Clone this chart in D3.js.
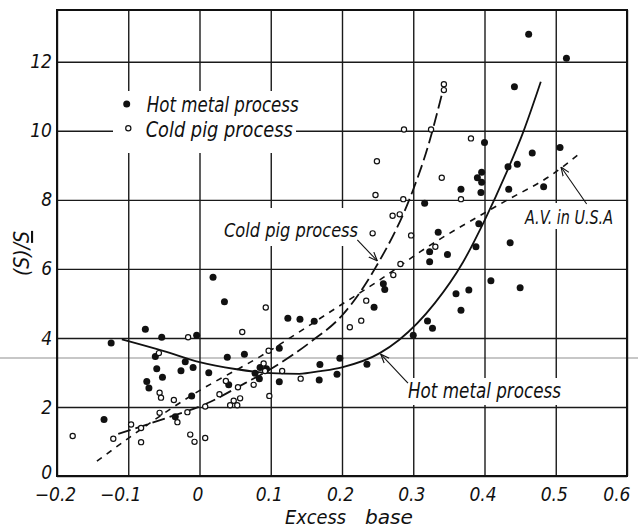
<!doctype html>
<html>
<head>
<meta charset="utf-8" />
<title>Excess base</title>
<script src="https://cdnjs.cloudflare.com/ajax/libs/d3/7.8.5/d3.min.js"></script>
<style>
  body { margin: 0; background: #fff; }
  svg { display: block; background: #fff; }
  .hand { font-family: "Liberation Sans Narrow", "DejaVu Sans Condensed", "Liberation Sans", sans-serif; font-style: italic; fill: #111; }
</style>
</head>
<body>
<div id="chart"></div>
<script>
// ticks
var xTicks = [-0.2, -0.1, 0, 0.1, 0.2, 0.3, 0.4, 0.5, 0.6];
var xTickLabels = ["\u22120.2", "\u22120.1", "0", "0.1", "0.2", "0.3", "0.4", "0.5", "0.6"];
var yTicks = [0, 2, 4, 6, 8, 10, 12];
var yTickLabels = ["0", "2", "4", "6", "8", "10", "12"];

// hot metal process (filled dots): [excess base, (S)/S]
var hotMetal = [
  [-0.076, 4.25], [-0.053, 4.02], [-0.004, 4.08], [-0.124, 3.85], [-0.062, 3.46],
  [-0.020, 3.31], [-0.060, 3.11], [-0.026, 3.05], [-0.009, 3.14], [-0.052, 2.86],
  [-0.074, 2.74], [-0.071, 2.55], [-0.011, 2.32], [-0.134, 1.64], [-0.034, 1.72],
  [0.019, 5.76], [0.035, 5.05], [0.124, 4.57], [0.141, 4.54], [0.161, 4.48],
  [0.112, 3.70], [0.039, 3.44], [0.063, 3.53], [0.197, 3.41], [0.169, 3.23],
  [0.013, 2.99], [0.085, 3.14], [0.094, 3.11], [0.078, 2.98], [0.084, 2.82],
  [0.041, 2.64], [0.112, 2.73], [0.168, 2.78], [0.193, 2.95], [0.235, 3.24],
  [0.323, 6.50], [0.348, 6.42], [0.323, 6.21], [0.258, 5.57], [0.260, 5.40],
  [0.245, 4.89], [0.360, 5.28], [0.378, 5.39], [0.367, 4.80], [0.320, 4.49],
  [0.327, 4.28], [0.300, 4.08], [0.462, 12.80], [0.515, 12.10], [0.442, 11.28],
  [0.400, 9.66], [0.467, 9.36], [0.506, 9.52], [0.433, 8.96], [0.446, 9.03],
  [0.396, 8.80], [0.390, 8.64], [0.396, 8.51], [0.367, 8.31], [0.395, 8.21],
  [0.434, 8.31], [0.483, 8.38], [0.316, 7.90], [0.392, 7.31], [0.335, 7.06],
  [0.436, 6.76], [0.388, 6.64], [0.409, 5.66], [0.450, 5.45]
];

// cold pig process (open circles)
var coldPig = [
  [-0.016, 4.02], [-0.057, 3.56], [-0.056, 2.41], [-0.054, 2.27], [-0.036, 2.20],
  [-0.056, 1.83], [-0.017, 1.85], [-0.031, 1.56], [-0.096, 1.49], [-0.082, 1.39],
  [-0.121, 1.08], [-0.082, 0.98], [-0.178, 1.16], [-0.013, 1.20], [-0.007, 0.99],
  [0.008, 1.10], [0.093, 4.88], [0.060, 4.17], [0.037, 2.75], [0.054, 2.57],
  [0.076, 2.64], [0.028, 2.37], [0.048, 2.18], [0.057, 2.25], [0.043, 2.05],
  [0.053, 2.05], [0.008, 2.01], [0.098, 2.32], [0.116, 3.04], [0.142, 2.82],
  [0.090, 3.26], [0.092, 3.04], [0.097, 3.63], [0.282, 6.14], [0.272, 5.82],
  [0.234, 5.08], [0.227, 4.50], [0.211, 4.31], [0.287, 10.04], [0.249, 9.12],
  [0.247, 8.14], [0.286, 8.02], [0.271, 7.54], [0.281, 7.58], [0.243, 7.03],
  [0.297, 6.97], [0.343, 11.35], [0.343, 11.18], [0.325, 10.04], [0.381, 9.78],
  [0.340, 8.64], [0.367, 8.02], [0.331, 6.64]
];

// fitted curves drawn on the chart
var hotMetalCurve = [
  [-0.109, 3.96], [-0.05, 3.62], [0, 3.30], [0.05, 3.10], [0.1, 2.98], [0.14, 2.96],
  [0.17, 3.04], [0.2, 3.15], [0.253, 3.56], [0.28, 3.94], [0.33, 5.0], [0.37, 6.2],
  [0.40, 7.4], [0.43, 8.75], [0.455, 10.0], [0.479, 11.42]
];
var coldPigCurve = [
  [-0.114, 1.22], [-0.048, 1.67], [0.01, 2.10], [0.064, 2.69], [0.1, 3.1],
  [0.157, 3.9], [0.2, 4.65], [0.246, 6.0], [0.30, 8.3], [0.32, 9.5], [0.34, 11.04]
];
var avUSACurve = [
  [-0.144, 0.43], [-0.006, 2.40], [0.085, 3.46], [0.195, 4.91], [0.253, 5.68],
  [0.31, 6.5], [0.428, 7.95], [0.494, 8.72], [0.531, 9.30]
];

// arrows [from, to] in data units
var arrows = [
  [[0.2215, 6.84], [0.2496, 6.23]],
  [[0.2926, 2.69], [0.2543, 3.53]],
  [[0.5434, 7.88], [0.5074, 8.95]]
];

var W = 638, H = 532;
var mLeft = 57, mRight = 627, mTop = 10, mBottom = 476;
var fontStack = '"Liberation Sans Narrow", "DejaVu Sans Condensed", "Liberation Sans", sans-serif';

var svg = d3.select('#chart').append('svg')
    .attr('width', W)
    .attr('height', H);

var x = d3.scaleLinear().domain([-0.2, 0.6]).range([mLeft, mRight]);
var y = d3.scaleLinear().domain([0, 13.5]).range([mBottom, mTop]);

// faint scan line across the page
svg.append('line')
    .attr('x1', 0).attr('x2', W)
    .attr('y1', 358).attr('y2', 358)
    .style('stroke', '#b4b4b4').style('stroke-width', 1.5);

// grid via axes
var xAxis = d3.axisBottom(x)
    .tickValues(xTicks)
    .tickSize(-(mBottom - mTop))
    .tickPadding(12)
    .tickFormat(function (d, i) { return xTickLabels[i]; });
var yAxis = d3.axisLeft(y)
    .tickValues(yTicks)
    .tickSize(-(mRight - mLeft))
    .tickPadding(5)
    .tickFormat(function (d, i) { return yTickLabels[i]; });

var gx = svg.append('g').attr('transform', 'translate(0,' + mBottom + ')').call(xAxis);
var gy = svg.append('g').attr('transform', 'translate(' + mLeft + ',0)').call(yAxis);
[gx, gy].forEach(function (g) {
  g.select('.domain').remove();
  g.selectAll('.tick line').style('stroke', '#1a1a1a').style('stroke-width', 1.4);
  g.selectAll('.tick text')
      .style('font-size', '19px')
      .style('font-family', fontStack)
      .style('font-style', 'italic')
      .style('fill', '#111');
});
gx.selectAll('.tick text').attr('dx', -2);
gx.selectAll('.tick text').filter(function (d) { return d === 0.6; })
    .attr('text-anchor', 'end').attr('dx', 3);
gx.selectAll('.tick text').filter(function (d) { return d === -0.1; }).attr('dx', -8);
gy.selectAll('.tick text').filter(function (d) { return d === 0; }).attr('dy', '0.12em');

svg.append('rect')
    .attr('x', mLeft).attr('y', mTop)
    .attr('width', mRight - mLeft).attr('height', mBottom - mTop)
    .style('fill', 'none').style('stroke', '#111').style('stroke-width', 2);

// white boxes behind the lettering
var boxes = [[113, 91, 183, 62], [222, 208, 138, 38], [405, 378, 157, 27], [522, 203, 93, 26]];
svg.selectAll('rect.box').data(boxes).enter().append('rect')
    .attr('class', 'box')
    .attr('x', function (d) { return d[0]; }).attr('y', function (d) { return d[1]; })
    .attr('width', function (d) { return d[2]; }).attr('height', function (d) { return d[3]; })
    .style('fill', '#fff');

// curves
var line = d3.line()
    .x(function (d) { return x(d[0]); })
    .y(function (d) { return y(d[1]); })
    .curve(d3.curveMonotoneX);

svg.append('path').datum(hotMetalCurve).attr('d', line)
    .style('fill', 'none').style('stroke', '#111').style('stroke-width', 1.8);
svg.append('path').datum(coldPigCurve).attr('d', line)
    .style('fill', 'none').style('stroke', '#111').style('stroke-width', 1.8)
    .style('stroke-dasharray', '13,5');
svg.append('path').datum(avUSACurve).attr('d', line)
    .style('fill', 'none').style('stroke', '#111').style('stroke-width', 1.6)
    .style('stroke-dasharray', '6,6');

// points
svg.selectAll('circle.hot').data(hotMetal).enter().append('circle')
    .attr('class', 'hot')
    .attr('cx', function (d) { return x(d[0]); })
    .attr('cy', function (d) { return y(d[1]); })
    .attr('r', 3.5)
    .style('fill', '#111');
svg.selectAll('circle.cold').data(coldPig).enter().append('circle')
    .attr('class', 'cold')
    .attr('cx', function (d) { return x(d[0]); })
    .attr('cy', function (d) { return y(d[1]); })
    .attr('r', 2.6)
    .style('fill', '#fff').style('stroke', '#111').style('stroke-width', 1.2);

// arrows
svg.append('defs').append('marker')
    .attr('id', 'arr')
    .attr('viewBox', '0 0 10 10')
    .attr('refX', 10).attr('refY', 5)
    .attr('markerWidth', 8).attr('markerHeight', 8)
    .attr('orient', 'auto')
  .append('path')
    .attr('d', 'M0,1 L10,5 L0,9')
    .style('fill', 'none').style('stroke', '#111').style('stroke-width', 1.3);

svg.selectAll('line.arrow').data(arrows).enter().append('line')
    .attr('class', 'arrow')
    .attr('x1', function (d) { return x(d[0][0]); }).attr('y1', function (d) { return y(d[0][1]); })
    .attr('x2', function (d) { return x(d[1][0]); }).attr('y2', function (d) { return y(d[1][1]); })
    .style('stroke', '#111').style('stroke-width', 1.1)
    .attr('marker-end', 'url(#arr)');

// legend
svg.append('circle').attr('cx', 126.7).attr('cy', 104).attr('r', 3.5).style('fill', '#111');
svg.append('circle').attr('cx', 128.3).attr('cy', 128.3).attr('r', 2.6)
    .style('fill', '#fff').style('stroke', '#111').style('stroke-width', 1.2);

function label(txt, px, py, size, len) {
  svg.append('text')
      .attr('class', 'hand')
      .attr('x', px).attr('y', py)
      .attr('textLength', len)
      .attr('lengthAdjust', 'spacingAndGlyphs')
      .style('font-size', size + 'px')
      .text(txt);
}
label('Hot metal process', 146.7, 111.7, 21, 152);
label('Cold pig process', 145.7, 136.5, 21, 147);
label('Cold pig process', 224, 237, 20, 134);
label('Hot metal process', 408, 398, 21, 153);
label('A.V. in U.S.A', 525, 224, 20, 88);
label('Excess', 285, 524, 20, 61);
label('base', 365, 524, 20, 48);

// y axis title: (S)/S with the second S underlined
var yt = svg.append('text')
    .attr('class', 'hand')
    .attr('transform', 'translate(29,276) rotate(-90)')
    .style('font-size', '21px');
yt.append('tspan').text('(S)/');
yt.append('tspan').style('text-decoration', 'underline').text('S');
</script>
</body>
</html>
